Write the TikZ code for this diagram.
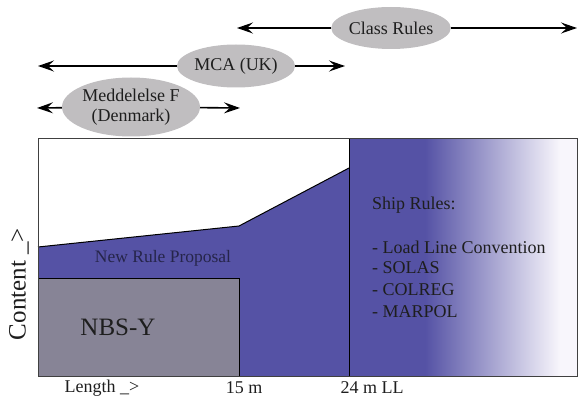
\documentclass[tikz,border=0pt]{standalone}
\usepackage{fontspec}
\setmainfont{Liberation Serif}
\usetikzlibrary{shapes.geometric,arrows.meta}
\definecolor{ruleblue}{RGB}{85,82,165}
\definecolor{nbsgray}{RGB}{135,132,150}
\definecolor{ovalgray}{RGB}{192,190,192}
\definecolor{fadewhite}{RGB}{248,246,252}
\definecolor{inkdark}{RGB}{30,30,30}
\tikzset{
  oval/.style={ellipse, fill=ovalgray, inner sep=0pt, text=inkdark, font=\fontsize{18}{20}\selectfont},
  span/.style={line width=1.6pt, -{Stealth[length=16pt,width=11pt,inset=6pt]}},
  lbl/.style={text=inkdark, font=\fontsize{18}{20}\selectfont, inner sep=0pt}
}
\begin{document}
\begin{tikzpicture}[x=1pt,y=-1pt]
\useasboundingbox (0,0) rectangle (578,401);
% regions
\fill[ruleblue] (349,139) rectangle (425,376);
\shade[left color=ruleblue, right color=fadewhite] (425,139) rectangle (560,376);
\fill[fadewhite] (560,139) rectangle (577,376);
\fill[ruleblue] (38,247) -- (239,226) -- (349,168) -- (349,376) -- (38,376) -- cycle;
\draw[line width=1pt] (38,247) -- (239,226) -- (349,168);
\draw[fill=nbsgray, line width=1pt] (38,278) rectangle (239,376);
\draw[line width=1pt] (349,139) -- (349,376);
\draw[line width=1pt, black!75] (38,139) rectangle (577,376);
% texts inside
\node[text=ruleblue!45!black, font=\fontsize{17.5}{20}\selectfont, inner sep=0pt] (nrp) at (163,258) {New Rule Proposal};
\node[text=inkdark, font=\fontsize{25}{28}\selectfont, inner sep=0pt] (nbs) at (118,327) {NBS-Y};
\node[lbl, anchor=west] (ship) at (372,205) {Ship Rules:};
\node[lbl, anchor=west] (llc) at (372,247) {- Load Line Convention};
\node[lbl, anchor=west] (solas) at (372,268) {- SOLAS};
\node[lbl, anchor=west] (colreg) at (372,290) {- COLREG};
\node[lbl, anchor=west] (marpol) at (372,312) {- MARPOL};
% axes
\node[lbl] (len) at (102,388) {Length \_{}>};
\node[lbl] (l15) at (244,388) {15 m};
\node[lbl] (l24) at (372,388) {24 m LL};
\node[text=inkdark, font=\fontsize{25}{28}\selectfont, inner sep=0pt, rotate=90] (cont) at (19,284) {Content \_{}>};
% scope arrows
\node[oval, minimum width=107pt, minimum height=42pt] (cls) at (391,28) {Class Rules};
\coordinate (clsL) at (237,28);
\coordinate (clsR) at (577,28);
\draw[span] (cls) -- (clsL);
\draw[span] (cls) -- (clsR);
\node[oval, minimum width=106pt, minimum height=43pt] (mca) at (236,66) {MCA (UK)};
\coordinate (mcaL) at (38,66);
\coordinate (mcaR) at (345,66);
\draw[span] (mca) -- (mcaL);
\draw[span] (mca) -- (mcaR);
\node[oval, minimum width=138pt, minimum height=59pt, align=center] (med) at (131,107) {Meddelelse F\\(Denmark)};
\coordinate (medL) at (37,108);
\coordinate (medR) at (240,108);
\draw[span] (med) -- (medL);
\draw[span] (med) -- (medR);
\end{tikzpicture}
\end{document}
